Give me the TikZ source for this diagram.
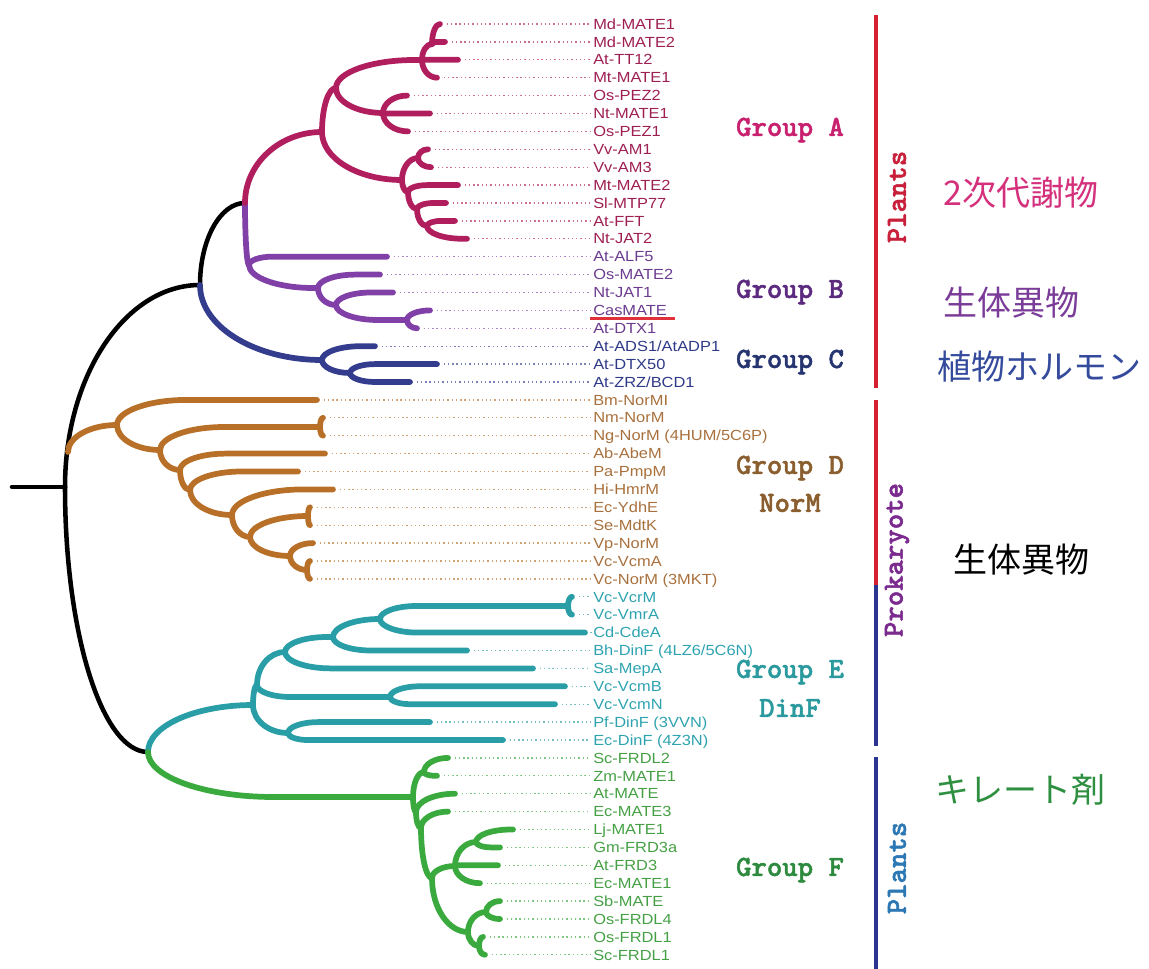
\documentclass[tikz,border=0pt]{standalone}
\usepackage{fontspec}
\setmainfont{Liberation Sans}
\newfontfamily\leaffont{Liberation Sans}[FakeStretch=1.12]
\newfontfamily\cjk{Noto Sans CJK JP}
\newfontfamily\grpfont{lmmonolt10-bold.otf}[FakeBold=1.6]
\usetikzlibrary{calc}

% branch colours
\definecolor{brA}{HTML}{B01E5E}
\definecolor{brB}{HTML}{8040A8}
\definecolor{brC}{HTML}{343C8E}
\definecolor{brD}{HTML}{B87028}
\definecolor{brE}{HTML}{2A9EA6}
\definecolor{brF}{HTML}{3AAA3E}
% leaf text colours
\definecolor{txA}{HTML}{9E1F52}
\definecolor{txB}{HTML}{6C3C90}
\definecolor{txC}{HTML}{2E3A88}
\definecolor{txD}{HTML}{A8703C}
\definecolor{txE}{HTML}{2EA3B0}
\definecolor{txF}{HTML}{45A045}
% group titles
\definecolor{gA}{HTML}{C8206E}
\definecolor{gB}{HTML}{5C2A7E}
\definecolor{gC}{HTML}{263470}
\definecolor{gD}{HTML}{8A5E2E}
\definecolor{gE}{HTML}{2B9A9E}
\definecolor{gF}{HTML}{2E8A3E}
% substrate notes
\definecolor{jA}{HTML}{D4307C}
\definecolor{jB}{HTML}{7A3C98}
\definecolor{jC}{HTML}{344A9C}
\definecolor{jF}{HTML}{2F8F40}
% side brackets
\definecolor{lnR}{HTML}{D42030}
\definecolor{lnB}{HTML}{2A3590}
\definecolor{sP1}{HTML}{C8203A}
\definecolor{sPk}{HTML}{7B2A8E}
\definecolor{sP2}{HTML}{2C78B4}
\definecolor{ulR}{HTML}{E0303A}

% leaf: group, name, end x, row, text
\newcommand\leaf[5]{%
  \coordinate (#2) at (#3,{24+17.9*#4});
  \node[leaflabel, text=tx#1] (t#2) at (593,{24+17.9*#4}) {#5};
  \draw[dotline, draw=br#1!65] (#2) -- (t#2.west);
}
% curved branch: style, parent, child
\newcommand\br[3]{%
  \draw[branch, #1] let \p1=(#2), \p2=(#3),
    \n1={min(\x2-\x1, 2.8*abs(\y2-\y1))} in
    (\p1) .. controls (\x1,{\y1+0.552*(\y2-\y1)}) and ({\x1+0.448*\n1},\y2)
    .. ({\x1+\n1},\y2) -- (\p2);
}

\begin{document}
\begin{tikzpicture}[x=0.75pt,y=-0.75pt,
  branch/.style={line width=4.3pt, line cap=round, line join=round},
  cK/.style={draw=black, line width=3.4pt},
  cA/.style={draw=brA}, cB/.style={draw=brB}, cC/.style={draw=brC},
  cD/.style={draw=brD}, cE/.style={draw=brE}, cF/.style={draw=brF},
  leaflabel/.style={anchor=west, inner sep=0pt, text height=7.8pt, text depth=0pt,
    font=\fontsize{11}{12}\selectfont\leaffont},
  dotline/.style={line width=1pt, dash pattern=on 1pt off 2.2pt,
    shorten <=5pt, shorten >=2pt},
  grouplabel/.style={inner sep=0pt, font=\fontsize{22}{24}\selectfont\grpfont},
  sidelabel/.style={inner sep=0pt, rotate=90, font=\fontsize{22}{24}\selectfont\grpfont},
  jplabel/.style={anchor=west, inner sep=0pt, font=\fontsize{25.5}{28}\selectfont\cjk},
  bracket/.style={line width=2.3pt}
]
\useasboundingbox (0,0) rectangle (1149,969);

% ---------- leaves, labels and dotted guides ----------
\leaf{A}{MdMATE1}{440}{0}{Md-MATE1}
\leaf{A}{MdMATE2}{445}{1}{Md-MATE2}
\leaf{A}{AtTT12}{458}{2}{At-TT12}
\leaf{A}{MtMATE1}{437}{3}{Mt-MATE1}
\leaf{A}{OsPEZ2}{407}{4}{Os-PEZ2}
\leaf{A}{NtMATE1}{430}{5}{Nt-MATE1}
\leaf{A}{OsPEZ1}{408}{6}{Os-PEZ1}
\leaf{A}{VvAM1}{428}{7}{Vv-AM1}
\leaf{A}{VvAM3}{431}{8}{Vv-AM3}
\leaf{A}{MtMATE2}{458}{9}{Mt-MATE2}
\leaf{A}{SlMTP77}{446}{10}{Sl-MTP77}
\leaf{A}{AtFFT}{455}{11}{At-FFT}
\leaf{A}{NtJAT2}{467}{12}{Nt-JAT2}
\leaf{B}{AtALF5}{387}{13}{At-ALF5}
\leaf{B}{OsMATE2}{380}{14}{Os-MATE2}
\leaf{B}{NtJAT1}{393}{15}{Nt-JAT1}
\leaf{B}{CasMATE}{430}{16}{CasMATE}
\leaf{B}{AtDTX1}{417}{17}{At-DTX1}
\leaf{C}{AtADS1}{375}{18}{At-ADS1/AtADP1}
\leaf{C}{AtDTX50}{437}{19}{At-DTX50}
\leaf{C}{AtZRZ}{410}{20}{At-ZRZ/BCD1}
\leaf{D}{BmNorMI}{317}{21}{Bm-NorMI}
\leaf{D}{NmNorM}{323}{22}{Nm-NorM}
\leaf{D}{NgNorM}{323}{23}{Ng-NorM (4HUM/5C6P)}
\leaf{D}{AbAbeM}{325}{24}{Ab-AbeM}
\leaf{D}{PaPmpM}{298}{25}{Pa-PmpM}
\leaf{D}{HiHmrM}{333}{26}{Hi-HmrM}
\leaf{D}{EcYdhE}{310}{27}{Ec-YdhE}
\leaf{D}{SeMdtK}{310}{28}{Se-MdtK}
\leaf{D}{VpNorM}{313}{29}{Vp-NorM}
\leaf{D}{VcVcmA}{310}{30}{Vc-VcmA}
\leaf{D}{VcNorM}{310}{31}{Vc-NorM (3MKT)}
\leaf{E}{VcVcrM}{572}{32}{Vc-VcrM}
\leaf{E}{VcVmrA}{572}{33}{Vc-VmrA}
\leaf{E}{CdCdeA}{585}{34}{Cd-CdeA}
\leaf{E}{BhDinF}{467}{35}{Bh-DinF (4LZ6/5C6N)}
\leaf{E}{SaMepA}{533}{36}{Sa-MepA}
\leaf{E}{VcVcmB}{565}{37}{Vc-VcmB}
\leaf{E}{VcVcmN}{555}{38}{Vc-VcmN}
\leaf{E}{PfDinF}{430}{39}{Pf-DinF (3VVN)}
\leaf{E}{EcDinF}{503}{40}{Ec-DinF (4Z3N)}
\leaf{F}{ScFRDL2}{448}{41}{Sc-FRDL2}
\leaf{F}{ZmMATE1}{437}{42}{Zm-MATE1}
\leaf{F}{AtMATE}{455}{43}{At-MATE}
\leaf{F}{EcMATE3}{448}{44}{Ec-MATE3}
\leaf{F}{LjMATE1}{513}{45}{Lj-MATE1}
\leaf{F}{GmFRD3a}{500}{46}{Gm-FRD3a}
\leaf{F}{AtFRD3}{498}{47}{At-FRD3}
\leaf{F}{EcMATE1}{480}{48}{Ec-MATE1}
\leaf{F}{SbMATE}{500}{49}{Sb-MATE}
\leaf{F}{OsFRDL4}{500}{50}{Os-FRDL4}
\leaf{F}{OsFRDL1}{483}{51}{Os-FRDL1}
\leaf{F}{ScFRDL1}{485}{52}{Sc-FRDL1}

\draw[line width=1.6pt, draw=ulR] ([xshift=-2pt,yshift=-2pt]tCasMATE.south west)
  -- ([xshift=6pt,yshift=-2pt]tCasMATE.south east);

% ---------- internal nodes ----------
\coordinate (stub) at (12,487);
\coordinate (R) at (65,487);
\coordinate (ABC) at (200,285);
\coordinate (AB) at (245,203);
\coordinate (EF) at (148,752);
\coordinate (Dbase) at (68,452);

\coordinate (A) at (322,132);
\coordinate (A1) at (336,88);
\coordinate (A11) at (422,60);
\coordinate (A111) at (432,44);
\coordinate (A12) at (383,113);
\coordinate (A2) at (402,180);
\coordinate (A21) at (418,158);
\coordinate (A22) at (408,192);
\coordinate (A23) at (417,209);
\coordinate (A24) at (427,226);

\coordinate (B) at (249,265);
\coordinate (B2) at (318,288);
\coordinate (B3) at (336,305);
\coordinate (B4) at (407,320);

\coordinate (C) at (322,360);
\coordinate (C2) at (350,373);

\coordinate (D1) at (117,425);
\coordinate (D2) at (160,450);
\coordinate (D21) at (320,427);
\coordinate (D3) at (180,470);
\coordinate (D4) at (190,490);
\coordinate (D5) at (232,515);
\coordinate (D6) at (250,537);
\coordinate (D61) at (308,516);
\coordinate (D7) at (290,556);
\coordinate (D71) at (307,570);

\coordinate (E) at (253,705);
\coordinate (E0) at (257,685);
\coordinate (E1) at (285,652);
\coordinate (E11) at (333,637);
\coordinate (E12) at (380,619);
\coordinate (ET) at (568,606);
\coordinate (E2) at (390,697);
\coordinate (E3) at (288,733);

\coordinate (F) at (413,797);
\coordinate (Fa) at (424,772);
\coordinate (Fb) at (416,812);
\coordinate (Fc) at (421,828);
\coordinate (Fd) at (432,878);
\coordinate (Fe) at (455,866);
\coordinate (Fe1) at (476,842);
\coordinate (Ff) at (468,932);
\coordinate (Ff1) at (486,912);
\coordinate (Ff2) at (479,946);

% ---------- backbone ----------
\draw[branch, cK] (stub) -- (R);
\br{cK}{R}{ABC}
\br{cK}{R}{EF}
\br{cK}{ABC}{AB}

% ---------- group C ----------
\br{cC}{ABC}{C}
\br{cC}{C}{AtADS1}
\br{cC}{C}{C2}
\br{cC}{C2}{AtDTX50}
\br{cC}{C2}{AtZRZ}

% ---------- group B ----------
\br{cB}{AB}{B}
\br{cB}{B}{AtALF5}
\br{cB}{B}{B2}
\br{cB}{B2}{OsMATE2}
\br{cB}{B2}{B3}
\br{cB}{B3}{NtJAT1}
\br{cB}{B3}{B4}
\br{cB}{B4}{CasMATE}
\br{cB}{B4}{AtDTX1}

% ---------- group A ----------
\br{cA}{AB}{A}
\br{cA}{A}{A1}
\br{cA}{A}{A2}
\br{cA}{A1}{A11}
\br{cA}{A1}{A12}
\br{cA}{A11}{A111}
\br{cA}{A11}{AtTT12}
\br{cA}{A11}{MtMATE1}
\br{cA}{A111}{MdMATE1}
\br{cA}{A111}{MdMATE2}
\br{cA}{A12}{OsPEZ2}
\br{cA}{A12}{NtMATE1}
\br{cA}{A12}{OsPEZ1}
\br{cA}{A2}{A21}
\br{cA}{A2}{A22}
\br{cA}{A21}{VvAM1}
\br{cA}{A21}{VvAM3}
\br{cA}{A22}{MtMATE2}
\br{cA}{A22}{A23}
\br{cA}{A23}{SlMTP77}
\br{cA}{A23}{A24}
\br{cA}{A24}{AtFFT}
\br{cA}{A24}{NtJAT2}

% ---------- group D ----------
\br{cD}{Dbase}{D1}
\br{cD}{D1}{BmNorMI}
\br{cD}{D1}{D2}
\br{cD}{D2}{D21}
\br{cD}{D2}{D3}
\br{cD}{D21}{NmNorM}
\br{cD}{D21}{NgNorM}
\br{cD}{D3}{AbAbeM}
\br{cD}{D3}{D4}
\br{cD}{D4}{PaPmpM}
\br{cD}{D4}{D5}
\br{cD}{D5}{HiHmrM}
\br{cD}{D5}{D6}
\br{cD}{D6}{D61}
\br{cD}{D6}{D7}
\br{cD}{D61}{EcYdhE}
\br{cD}{D61}{SeMdtK}
\br{cD}{D7}{VpNorM}
\br{cD}{D7}{D71}
\br{cD}{D71}{VcVcmA}
\br{cD}{D71}{VcNorM}

% ---------- group E ----------
\br{cE}{EF}{E}
\br{cE}{E}{E0}
\br{cE}{E}{E3}
\br{cE}{E0}{E1}
\br{cE}{E0}{E2}
\br{cE}{E1}{E11}
\br{cE}{E1}{SaMepA}
\br{cE}{E11}{E12}
\br{cE}{E11}{BhDinF}
\br{cE}{E12}{ET}
\br{cE}{E12}{CdCdeA}
\br{cE}{ET}{VcVcrM}
\br{cE}{ET}{VcVmrA}
\br{cE}{E2}{VcVcmB}
\br{cE}{E2}{VcVcmN}
\br{cE}{E3}{PfDinF}
\br{cE}{E3}{EcDinF}

% ---------- group F ----------
\br{cF}{EF}{F}
\br{cF}{F}{Fa}
\br{cF}{F}{Fb}
\br{cF}{Fa}{ScFRDL2}
\br{cF}{Fa}{ZmMATE1}
\br{cF}{Fb}{AtMATE}
\br{cF}{Fb}{Fc}
\br{cF}{Fc}{EcMATE3}
\br{cF}{Fc}{Fd}
\br{cF}{Fd}{Fe}
\br{cF}{Fd}{Ff}
\br{cF}{Fe}{Fe1}
\br{cF}{Fe}{AtFRD3}
\br{cF}{Fe}{EcMATE1}
\br{cF}{Fe1}{LjMATE1}
\br{cF}{Fe1}{GmFRD3a}
\br{cF}{Ff}{Ff1}
\br{cF}{Ff}{Ff2}
\br{cF}{Ff1}{SbMATE}
\br{cF}{Ff1}{OsFRDL4}
\br{cF}{Ff2}{OsFRDL1}
\br{cF}{Ff2}{ScFRDL1}

% ---------- group titles ----------
\node[grouplabel, text=gA] (gpA) at (790,130) {Group A};
\node[grouplabel, text=gB] (gpB) at (790,292) {Group B};
\node[grouplabel, text=gC] (gpC) at (790,362) {Group C};
\node[grouplabel, text=gD] (gpD) at (790,468) {Group D};
\node[grouplabel, text=gD] (gpDn) at (790,503) {NorM};
\node[grouplabel, text=gE] (gpE) at (790,672) {Group E};
\node[grouplabel, text=gE] (gpEn) at (790,708) {DinF};
\node[grouplabel, text=gF] (gpF) at (790,870) {Group F};

% ---------- side brackets ----------
\coordinate (p1t) at (876,15);
\coordinate (p1b) at (876,388);
\coordinate (k1t) at (876,400);
\coordinate (k1m) at (876,585);
\coordinate (k1b) at (876,746);
\coordinate (p2t) at (876,757);
\coordinate (p2b) at (876,969);
\draw[bracket, draw=lnR] (p1t) -- (p1b);
\draw[bracket, draw=lnR] (k1t) -- (k1m);
\draw[bracket, draw=lnB] (k1m) -- (k1b);
\draw[bracket, draw=lnB] (p2t) -- (p2b);

\node[sidelabel, text=sP1] (sdP1) at (897,197) {Plants};
\node[sidelabel, text=sPk] (sdPk) at (897,560) {Prokaryote};
\node[sidelabel, text=sP2] (sdP2) at (897,868) {Plants};

% ---------- substrate notes ----------
\node[jplabel, text=jA] (nA) at (943,193) {2次代謝物};
\node[jplabel, text=jB] (nB) at (943,303) {生体異物};
\node[jplabel, text=jC] (nC) at (937,367) {植物ホルモン};
\node[jplabel, text=black] (nK) at (953,560) {生体異物};
\node[jplabel, text=jF] (nF) at (935,790) {キレート剤};
\end{tikzpicture}
\end{document}
